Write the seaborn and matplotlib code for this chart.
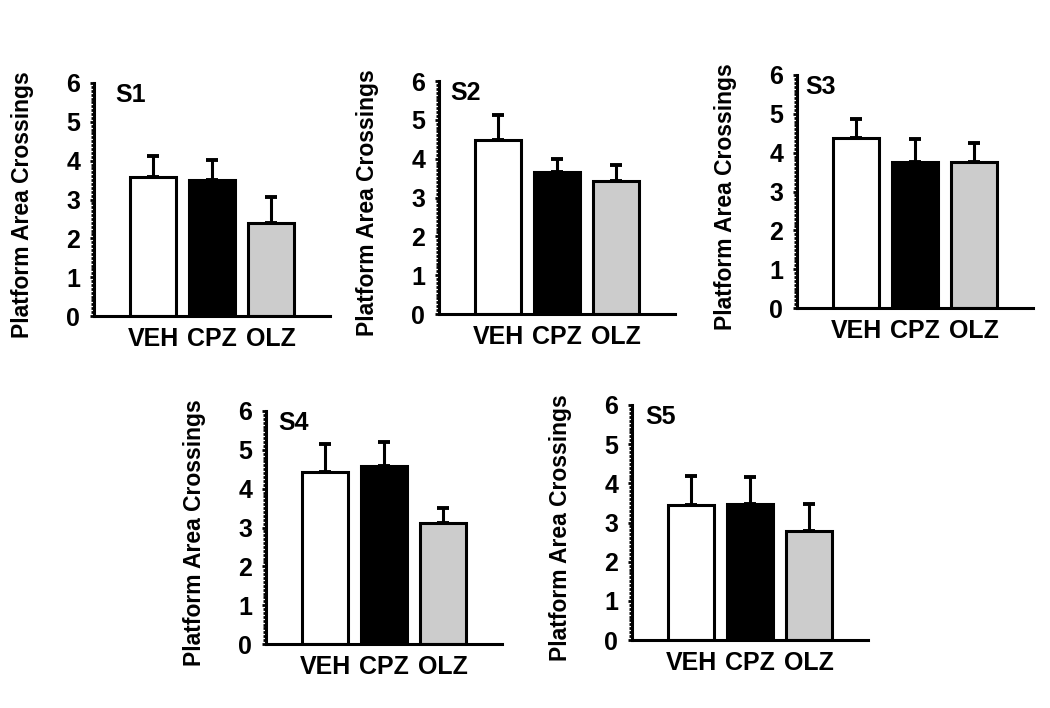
import matplotlib
matplotlib.use('Agg')
import matplotlib.pyplot as plt
from matplotlib.ticker import MultipleLocator
import seaborn as sns

groups = ['VEH', 'CPZ', 'OLZ']
panels = ['S1', 'S2', 'S3', 'S4', 'S5']

# mean platform area crossings per session (VEH, CPZ, OLZ)
s1_means = [3.58, 3.50, 2.40]
s2_means = [4.49, 3.66, 3.42]
s3_means = [4.39, 3.77, 3.77]
s4_means = [4.43, 4.58, 3.12]
s5_means = [3.44, 3.46, 2.78]

# upper error (SEM)
s1_err = [0.54, 0.52, 0.66]
s2_err = [0.64, 0.32, 0.41]
s3_err = [0.47, 0.57, 0.49]
s4_err = [0.73, 0.62, 0.39]
s5_err = [0.74, 0.69, 0.69]

all_means = [s1_means, s2_means, s3_means, s4_means, s5_means]
all_err = [s1_err, s2_err, s3_err, s4_err, s5_err]

bar_colors = ['white', 'black', '#cccccc']

W, H = 1050, 708
# axes boxes in pixels: left, top, width, height
boxes = [(94, 83, 236, 233), (439, 81, 236, 233), (797, 75, 236, 233),
         (266, 411, 236, 233), (632, 405, 236, 235)]
title_off = [21, 11, 8, 12, 13]

sns.set_style('ticks')
plt.rcParams['font.family'] = ['Liberation Sans', 'DejaVu Sans']
plt.rcParams['font.weight'] = 'bold'
plt.rcParams.update({'text.color': 'black', 'axes.labelcolor': 'black',
                     'xtick.color': 'black', 'ytick.color': 'black',
                     'axes.edgecolor': 'black'})

fig = plt.figure(figsize=(W / 100, H / 100), dpi=100)

for i, name in enumerate(panels):
    l, t, w, h = boxes[i]
    ax = fig.add_axes([l / W, 1 - (t + h) / H, w / W, h / H])
    sns.barplot(x=groups, y=all_means[i], hue=groups, palette=bar_colors,
                saturation=1, edgecolor='black', linewidth=2.2, width=0.79,
                legend=False, ax=ax)
    # errorbar under the bars so the zero-length lower cap is hidden
    ax.errorbar(range(3), all_means[i], yerr=[[0, 0, 0], all_err[i]],
                fmt='none', ecolor='black', elinewidth=2.2, capsize=4,
                capthick=2.8, zorder=0.5)
    ax.set_xlim(-1, 3)
    ax.set_ylim(0, 6)
    ax.set_yticks(range(7))
    ax.yaxis.set_minor_locator(MultipleLocator(0.1))
    ax.tick_params(axis='y', which='major', length=3, width=2,
                   labelsize=18, pad=7)
    ax.tick_params(axis='y', which='minor', length=2.5, width=2)
    ax.tick_params(axis='x', length=0, labelsize=18, pad=8)
    for s in ['top', 'right']:
        ax.spines[s].set_visible(False)
    for s in ['left', 'bottom']:
        ax.spines[s].set_linewidth(2.2)
    ax.set_xlabel('')
    ax.set_ylabel('Platform Area Crossings', fontsize=16.5, fontweight='bold')
    ax.yaxis.set_label_coords(-0.255, 0.48)
    ax.text(title_off[i] / w, 1.0, name, transform=ax.transAxes,
            fontsize=18, fontweight='bold', va='top', ha='left')

fig.savefig('out.png', dpi=100)
